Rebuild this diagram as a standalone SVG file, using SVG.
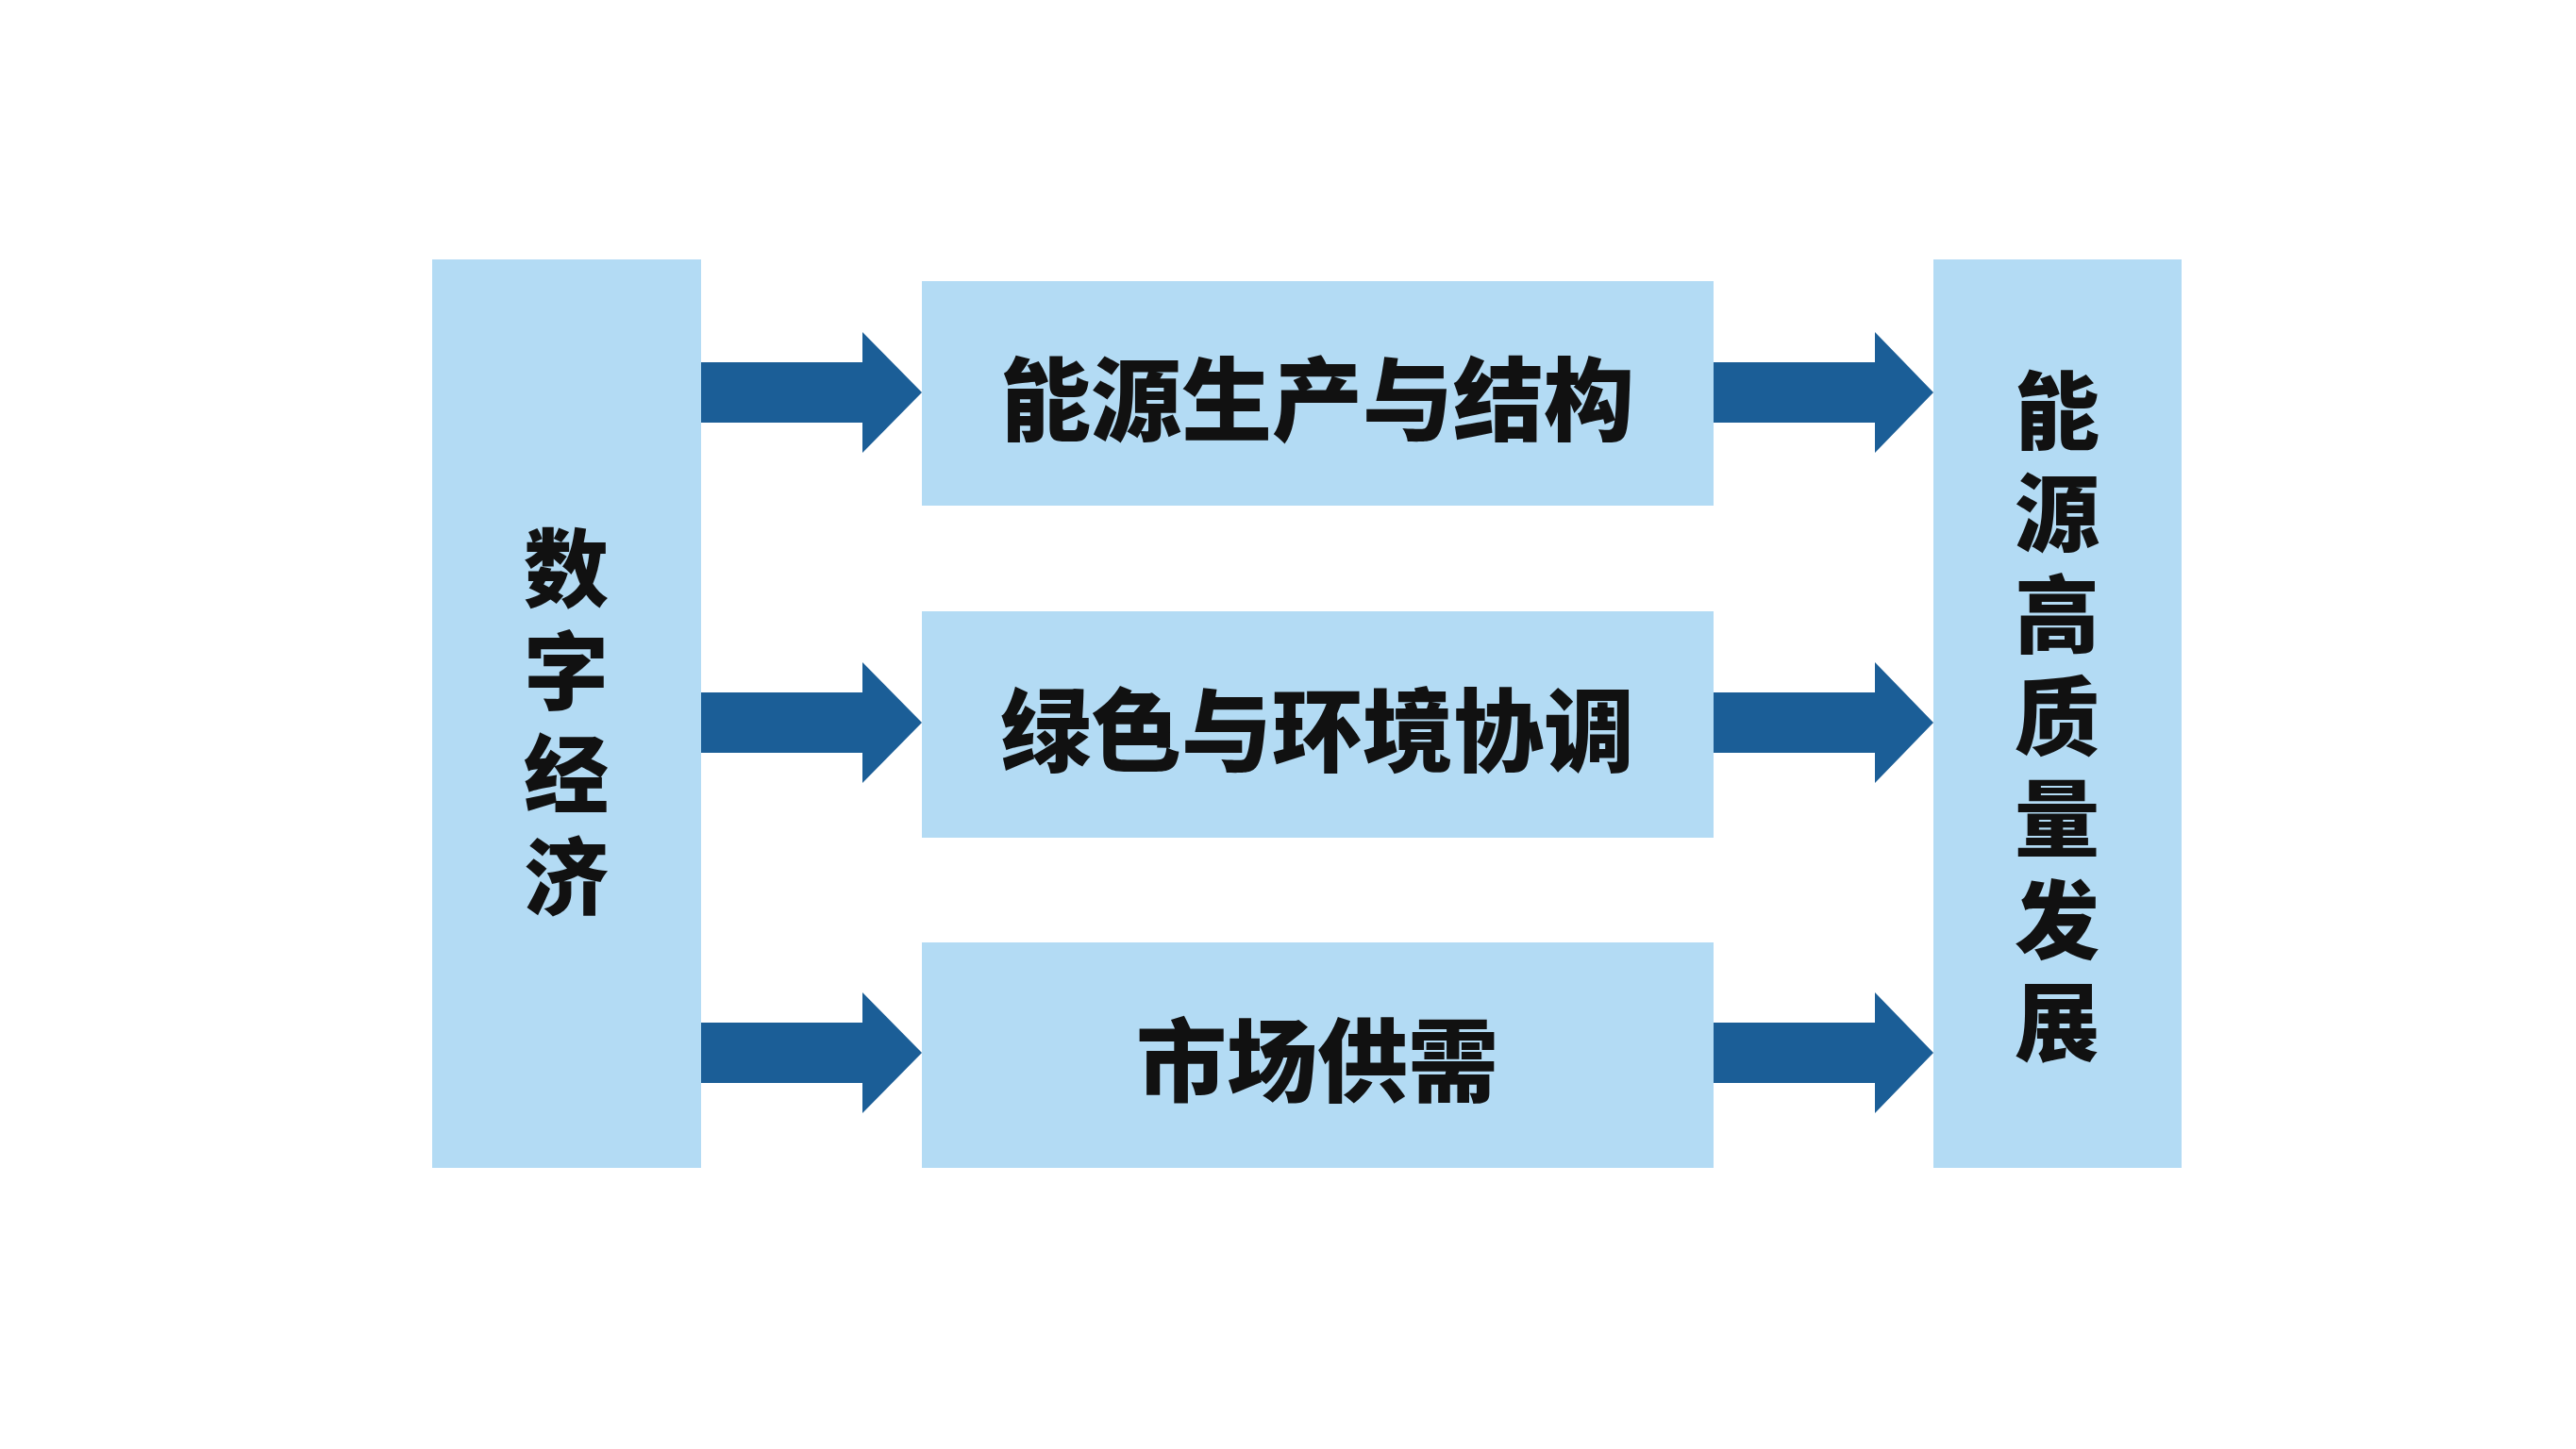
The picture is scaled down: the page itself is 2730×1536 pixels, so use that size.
<svg xmlns="http://www.w3.org/2000/svg" width="2730" height="1536" viewBox="0 0 2730 1536">
<style>
.box{fill:#b3dbf4}
.t{font-family:"Noto Sans CJK SC","Noto Sans",sans-serif;font-weight:900;font-size:96px;fill:#111;text-anchor:middle;dominant-baseline:central}
.v{font-size:90px}
.a{fill:#1b5e97}
</style>
<rect width="2730" height="1536" fill="#fff"/>
<g id="n-digital"><rect class="box" x="458" y="275" width="285" height="963"/>
<text class="t v" x="600" y="597">数</text><text class="t v" x="600" y="706">字</text><text class="t v" x="600" y="815">经</text><text class="t v" x="600" y="924">济</text></g>
<g id="n-energy"><rect class="box" x="977" y="298" width="839" height="238"/><text class="t" x="1396" y="417">能源生产与结构</text></g>
<g id="n-green"><rect class="box" x="977" y="648" width="839" height="240"/><text class="t" x="1396" y="768">绿色与环境协调</text></g>
<g id="n-market"><rect class="box" x="977" y="999" width="839" height="239"/><text class="t" x="1396" y="1118">市场供需</text></g>
<g id="n-high"><rect class="box" x="2049" y="275" width="263" height="963"/>
<text class="t v" x="2180" y="430">能</text><text class="t v" x="2180" y="538">源</text><text class="t v" x="2180" y="646">高</text><text class="t v" x="2180" y="754">质</text><text class="t v" x="2180" y="862">量</text><text class="t v" x="2180" y="970">发</text><text class="t v" x="2180" y="1078">展</text></g>
<g id="connectors">
<polygon class="a" points="743,384 914,384 914,352 977,416 914,480 914,448 743,448"/>
<polygon class="a" points="743,734 914,734 914,702 977,766 914,830 914,798 743,798"/>
<polygon class="a" points="743,1084 914,1084 914,1052 977,1116 914,1180 914,1148 743,1148"/>
<polygon class="a" points="1816,384 1987,384 1987,352 2049,416 1987,480 1987,448 1816,448"/>
<polygon class="a" points="1816,734 1987,734 1987,702 2049,766 1987,830 1987,798 1816,798"/>
<polygon class="a" points="1816,1084 1987,1084 1987,1052 2049,1116 1987,1180 1987,1148 1816,1148"/>
</g>
</svg>
